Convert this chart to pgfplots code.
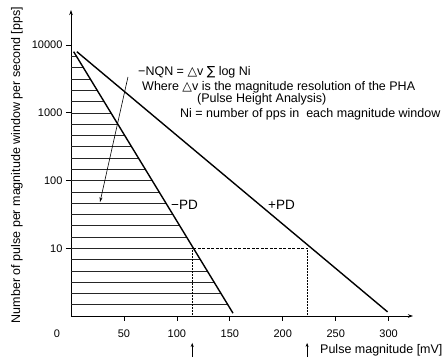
\documentclass[border=0pt]{standalone}
\usepackage{pgfplots}
\pgfplotsset{compat=1.18}
\usepackage{fontspec}
\setmainfont{Liberation Sans}
\newfontfamily\dv{DejaVu Sans}
\usetikzlibrary{arrows.meta}
\begin{document}
\begin{tikzpicture}[font=\fontsize{12.5}{14}\selectfont]
\begin{axis}[name=ax, scale only axis, width=342pt, height=306pt,
  xmin=0, xmax=323, ymin=1, ymax=33000, ymode=log,
  axis lines=left,
  axis line style={line width=0.8pt, -{Stealth[length=5pt,width=3.5pt]}},
  xtick={50,100,...,300},
  ytick={10,100,1000,10000}, yticklabels={10,100,1000,10000},
  yminorticks=false, xminorticks=false,
  tick align=outside, major tick length=5pt,
  tick style={line width=0.7pt, black},
  /pgf/number format/assume math mode=true,
  ticklabel style={font=\fontsize{11}{12}\selectfont},
  xticklabel style={yshift=-5pt},
  clip=false]
% hatch lines (under -PD)
\addplot[black!85, line width=0.6pt] coordinates {(0,6813) (5.2,6813)};
\addplot[black!85, line width=0.6pt] coordinates {(0,4642) (11.7,4642)};
\addplot[black!85, line width=0.6pt] coordinates {(0,3162) (18.2,3162)};
\addplot[black!85, line width=0.6pt] coordinates {(0,2154) (24.7,2154)};
\addplot[black!85, line width=0.6pt] coordinates {(0,1468) (31.2,1468)};
\addplot[black!85, line width=0.6pt] coordinates {(0,1000) (37.7,1000)};
\addplot[black!85, line width=0.6pt] coordinates {(0,681.3) (44.2,681.3)};
\addplot[black!85, line width=0.6pt] coordinates {(0,464.2) (50.7,464.2)};
\addplot[black!85, line width=0.6pt] coordinates {(0,316.2) (57.2,316.2)};
\addplot[black!85, line width=0.6pt] coordinates {(0,215.4) (63.7,215.4)};
\addplot[black!85, line width=0.6pt] coordinates {(0,146.8) (70.2,146.8)};
\addplot[black!85, line width=0.6pt] coordinates {(0,100) (76.7,100)};
\addplot[black!85, line width=0.6pt] coordinates {(0,68.13) (83.2,68.13)};
\addplot[black!85, line width=0.6pt] coordinates {(0,46.42) (89.6,46.42)};
\addplot[black!85, line width=0.6pt] coordinates {(0,31.62) (96.1,31.62)};
\addplot[black!85, line width=0.6pt] coordinates {(0,21.54) (102.6,21.54)};
\addplot[black!85, line width=0.6pt] coordinates {(0,14.68) (109.1,14.68)};
\addplot[black!85, line width=0.6pt] coordinates {(0,10) (115.6,10)};
\addplot[black!85, line width=0.6pt] coordinates {(0,6.813) (122.1,6.813)};
\addplot[black!85, line width=0.6pt] coordinates {(0,4.642) (128.6,4.642)};
\addplot[black!85, line width=0.6pt] coordinates {(0,3.162) (135.1,3.162)};
\addplot[black!85, line width=0.6pt] coordinates {(0,2.154) (141.6,2.154)};
\addplot[black!85, line width=0.6pt] coordinates {(0,1.468) (148.1,1.468)};
% reference lines at 10
\addplot[black, line width=0.5pt, dash pattern=on 3pt off 1.5pt] coordinates {(115.6,10) (223,10)};
\addplot[black, line width=0.5pt, densely dotted] coordinates {(114.5,10) (114.5,1)};
\addplot[black, line width=0.5pt, densely dotted] coordinates {(223,10) (223,1)};
% main lines
\addplot[black, line width=1.4pt] coordinates {(2.5,8000) (153,1.1)};
\addplot[black, line width=1.4pt] coordinates {(5.5,8000) (299,1.15)};
% annotation arrow
\addplot[black, line width=0.6pt, -{Stealth[length=5pt,width=3pt]}] coordinates {(53.8,3388) (27.4,48)};
% arrows below axis
\draw[black, line width=0.6pt, -{Stealth[length=4pt,width=3pt]}] (axis cs:114.5,0.246) -- (axis cs:114.5,0.40);
\draw[black, line width=0.6pt, -{Stealth[length=4pt,width=3pt]}] (axis cs:223,0.246) -- (axis cs:223,0.40);
\end{axis}
\node[anchor=west, inner sep=0pt] at ([shift={(67pt,244pt)}]ax.south west) {−NQN = {\dv △}v {\dv ∑} log Ni};
\node[anchor=west, inner sep=0pt] at ([shift={(71pt,229pt)}]ax.south west) {Where {\dv △}v is the magnitude resolution of the PHA};
\node[anchor=west, inner sep=0pt] at ([shift={(126pt,217pt)}]ax.south west) {(Pulse Height Analysis)};
\node[anchor=west, inner sep=0pt] at ([shift={(109pt,202pt)}]ax.south west) {Ni = number of pps in\ \ each magnitude window};
\node[anchor=west, inner sep=0pt, font=\fontsize{13.5}{16}\selectfont] at ([shift={(100pt,111pt)}]ax.south west) {−PD};
\node[anchor=west, inner sep=0pt, font=\fontsize{13.5}{16}\selectfont] at ([shift={(197pt,111pt)}]ax.south west) {+PD};
\node[anchor=west, inner sep=0pt] at ([shift={(249pt,-34pt)}]ax.south west) {Pulse magnitude [mV]};
\node[rotate=90, inner sep=0pt] at ([shift={(-54pt,151pt)}]ax.south west) {Number of pulse per magnitude window per second [pps]};
\node[inner sep=0pt, font=\fontsize{11}{12}\selectfont] at ([shift={(-14pt,-18pt)}]ax.south west) {0};
\pgfresetboundingbox
\path ([shift={(-71pt,-42pt)}]ax.south west) rectangle ([shift={(371pt,316pt)}]ax.south west);
\end{tikzpicture}
\end{document}
